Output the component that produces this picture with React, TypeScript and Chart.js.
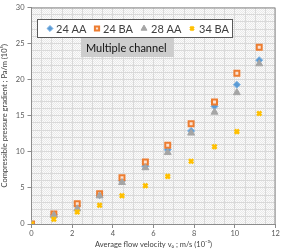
import React, { useEffect, useRef } from "react";
import { Chart, registerables } from "chart.js";
import { drawPoint } from "chart.js/helpers";

Chart.register(...registerables);

const xValues = [0, 1.1, 2.25, 3.35, 4.45, 5.6, 6.7, 7.85, 9.0, 10.1, 11.2];
const s24AA = [0, 1.3, 2.5, 4.0, 6.0, 8.0, 10.3, 12.9, 16.3, 19.3, 22.7];
const s24BA = [0, 1.4, 2.8, 4.2, 6.4, 8.6, 10.9, 13.9, 16.9, 20.9, 24.5];
const s28AA = [0, 1.2, 2.1, 3.9, 5.75, 7.8, 9.9, 12.6, 15.5, 18.2, 22.2];
const s34BA = [0, 0.65, 1.65, 2.6, 3.9, 5.3, 6.6, 8.7, 10.7, 12.8, 15.3];
const seriesNames = ["24 AA", "24 BA", "28 AA", "34 BA"];
const xTitle = "Average flow velocity v\u2080 ; m/s (10\u207B\u00B3)";
const yTitle = "Compressible pressure gradient ; Pa/m (10\u2075)";
const noteText = "Multiple channel";

const FONT = "Lato, 'Open Sans', sans-serif";

function toPoints(ys: number[]) {
  return xValues.map((x, i) => ({ x, y: ys[i] }));
}

export default function App() {
  const ref = useRef<HTMLCanvasElement | null>(null);
  useEffect(() => {
    document.body.style.margin = "0";
    const canvas = ref.current!;
    const pc = document.createElement("canvas");
    pc.width = 2;
    pc.height = 2;
    const pctx = pc.getContext("2d")!;
    pctx.fillStyle = "#fbfbfb";
    pctx.fillRect(0, 0, 2, 2);
    pctx.fillStyle = "#e9e9e9";
    pctx.fillRect(0, 0, 1, 1);
    pctx.fillRect(1, 1, 1, 1);

    const bgPlugin = {
      id: "bgPattern",
      beforeDraw(chart: any) {
        const { ctx, chartArea: a } = chart;
        ctx.save();
        ctx.fillStyle = "#ffffff";
        ctx.fillRect(0, 0, chart.width, chart.height);
        const pat = ctx.createPattern(pc, "repeat");
        ctx.fillStyle = pat;
        ctx.fillRect(a.left, a.top, a.right - a.left, a.bottom - a.top);
        ctx.restore();
      },
    };

    const overlayPlugin = {
      id: "overlay",
      afterDraw(chart: any) {
        const { ctx, chartArea: a } = chart;
        ctx.save();
        // frame top/right
        ctx.strokeStyle = "#8c8c8c";
        ctx.lineWidth = 1;
        ctx.beginPath();
        ctx.moveTo(a.left, a.top + 0.5);
        ctx.lineTo(a.right - 0.5, a.top + 0.5);
        ctx.lineTo(a.right - 0.5, a.bottom);
        ctx.stroke();

        // legend box
        ctx.fillStyle = "#ffffff";
        ctx.fillRect(37.5, 19.5, 195, 18);
        ctx.strokeStyle = "#595959";
        ctx.strokeRect(37.5, 19.5, 195, 18);
        const markerX = [50, 97, 144, 192];
        const textX = [56, 103, 151, 199];
        ctx.font = "11px " + FONT;
        ctx.textBaseline = "middle";
        ctx.textAlign = "left";
        chart.data.datasets.forEach((ds: any, i: number) => {
          ctx.save();
          ctx.fillStyle = ds.pointBackgroundColor;
          ctx.strokeStyle = ds.pointBorderColor;
          ctx.lineWidth = ds.pointBorderWidth;
          drawPoint(ctx, { pointStyle: ds.pointStyle, rotation: 0, borderWidth: ds.pointBorderWidth, radius: ds.pointRadius * 0.85 }, markerX[i], 28.5);
          ctx.restore();
          ctx.fillStyle = "#404040";
          ctx.fillText(seriesNames[i], textX[i], 29);
        });

        // note box
        ctx.fillStyle = "#cdcdcd";
        ctx.fillRect(81, 38, 93, 19);
        ctx.fillStyle = "#111111";
        ctx.font = "11px " + FONT;
        ctx.fillText(noteText, 86, 48);
        ctx.restore();
      },
    };

    const datasets = [
      {
        label: seriesNames[0],
        data: toPoints(s24AA),
        pointStyle: "rectRot",
        pointRadius: 3.5,
        pointBackgroundColor: "#5b9bd5",
        pointBorderColor: "#7fb3e3",
        pointBorderWidth: 1,
        order: 4,
      },
      {
        label: seriesNames[1],
        data: toPoints(s24BA),
        pointStyle: "rect",
        pointRadius: 3.5,
        pointBackgroundColor: "#fbe3d3",
        pointBorderColor: "#ed7d31",
        pointBorderWidth: 2,
        order: 3,
      },
      {
        label: seriesNames[2],
        data: toPoints(s28AA),
        pointStyle: "triangle",
        pointRadius: 4,
        pointBackgroundColor: "#a5a5a5",
        pointBorderColor: "#a5a5a5",
        pointBorderWidth: 1,
        order: 2,
      },
      {
        label: seriesNames[3],
        data: toPoints(s34BA),
        pointStyle: "crossRot",
        pointRadius: 3,
        pointBackgroundColor: "#ffc000",
        pointBorderColor: "#ffc000",
        pointBorderWidth: 2.5,
        order: 1,
      },
    ];

    const chart = new Chart(canvas, {
      type: "scatter",
      data: { datasets: datasets as any },
      plugins: [bgPlugin, overlayPlugin],
      options: {
        animation: false,
        responsive: false,
        maintainAspectRatio: false,
        layout: { padding: { left: 0, right: 6, top: 6.5, bottom: 0 } },
        plugins: { legend: { display: false }, tooltip: { enabled: false } },
        scales: {
          x: {
            type: "linear",
            min: 0,
            max: 12,
            afterFit(scale: any) {
              scale.height = 25;
            },
            ticks: {
              stepSize: 0.5,
              autoSkip: false,
              maxTicksLimit: 100,
              maxRotation: 0,
              padding: 1,
              color: "#595959",
              font: { family: FONT, size: 7.5 },
              callback: (v: any) => (Math.abs(v % 2) < 1e-6 ? String(v) : ""),
            },
            grid: {
              color: "#d9d9d9",
              lineWidth: 1,
              tickLength: 4,
              tickColor: (c: any) =>
                c.tick && Math.abs(c.tick.value % 2) < 1e-6 ? "#8c8c8c" : "rgba(0,0,0,0)",
            },
            border: { color: "#8c8c8c" },
            title: {
              display: true,
              text: xTitle,
              color: "#404040",
              font: { family: FONT, size: 7.5 },
              padding: { top: 1, bottom: 0 },
            },
          },
          y: {
            type: "linear",
            min: 0,
            max: 30,
            afterFit(scale: any) {
              scale.width = 31.5;
            },
            ticks: {
              stepSize: 1,
              autoSkip: false,
              maxTicksLimit: 100,
              padding: 3,
              color: "#595959",
              font: { family: FONT, size: 7.5 },
              callback: (v: any) => (Math.abs(v % 5) < 1e-6 ? String(v) : ""),
            },
            grid: {
              color: "#d9d9d9",
              lineWidth: 1,
              tickLength: 4,
              tickColor: (c: any) =>
                c.tick && Math.abs(c.tick.value % 5) < 1e-6 ? "#8c8c8c" : "rgba(0,0,0,0)",
            },
            border: { color: "#8c8c8c" },
            title: {
              display: true,
              text: yTitle,
              color: "#404040",
              font: { family: FONT, size: 7.5 },
              padding: { top: 0, bottom: 0 },
            },
          },
        },
      },
    });
    return () => chart.destroy();
  }, []);
  return (
    <div style={{ width: 282, height: 249 }}>
      <canvas ref={ref} width={282} height={249} style={{ display: "block" }} />
    </div>
  );
}
